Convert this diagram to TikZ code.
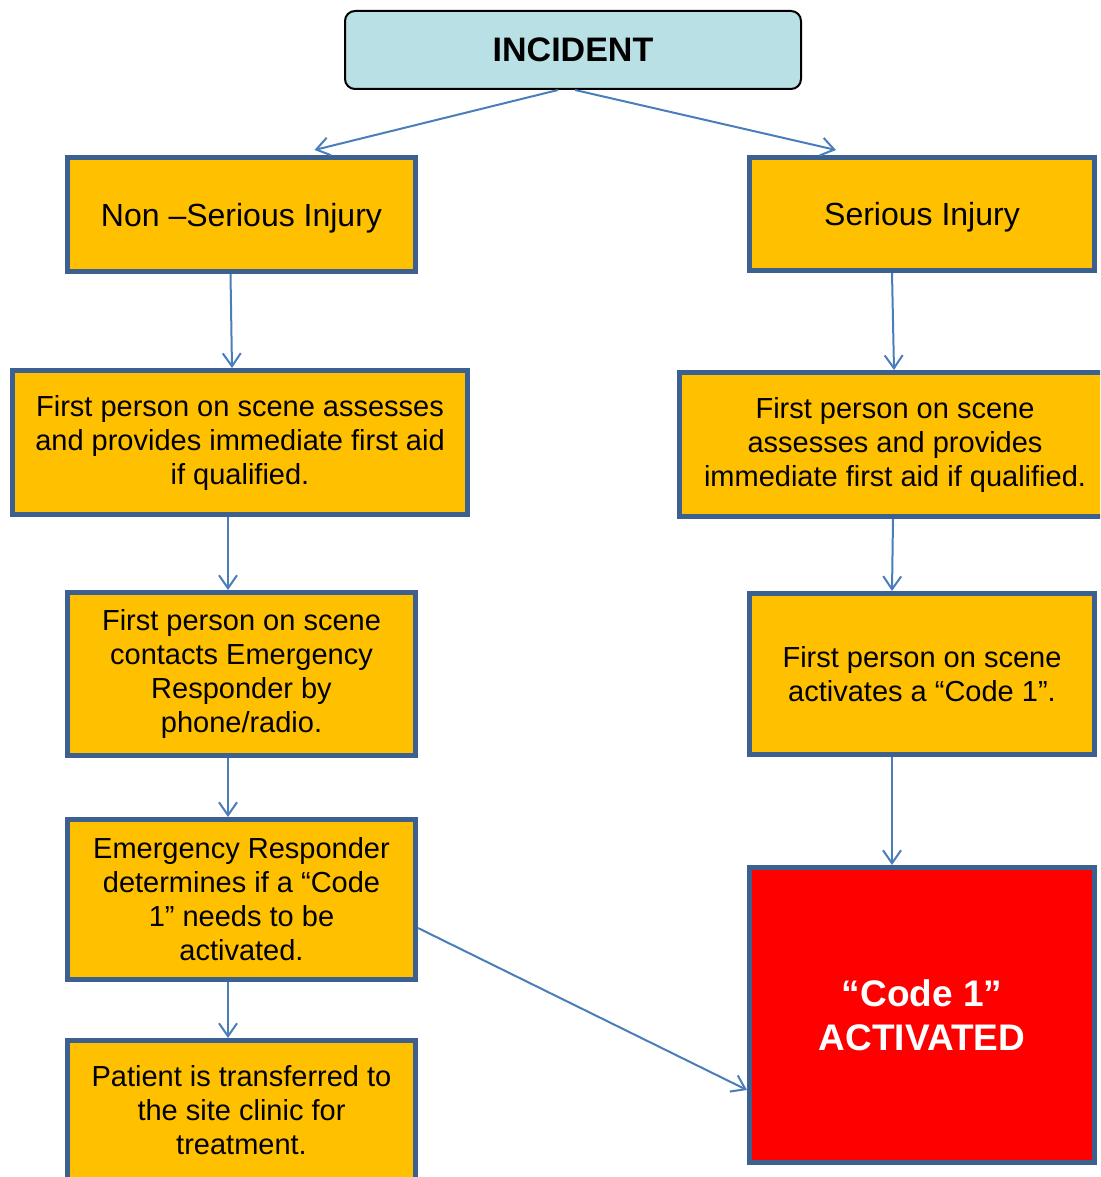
\documentclass[tikz,border=0pt]{standalone}
\usepackage{fontspec}
\setmainfont{Liberation Sans}
\usetikzlibrary{arrows.meta}
\definecolor{boxfill}{HTML}{FFC000}
\definecolor{boxline}{HTML}{3C6090}
\definecolor{arrowc}{HTML}{4A7EBB}
\definecolor{incfill}{HTML}{B9E0E4}
\definecolor{codered}{HTML}{FF0000}
\begin{document}
\begin{tikzpicture}[x=1pt,y=-1pt,
  stepbox/.style={draw=boxline, line width=5pt, fill=boxfill, inner sep=0pt, align=center,
    font=\fontsize{29}{34}\selectfont},
  bigstep/.style={stepbox, font=\fontsize{32}{38}\selectfont, text depth=0pt},
  redbox/.style={draw=boxline, line width=5pt, fill=codered, inner sep=0pt, align=center,
    text=white, font=\bfseries\fontsize{37}{44}\selectfont},
  topbox/.style={draw=black, line width=2pt, fill=incfill, rounded corners=10pt, inner sep=0pt,
    align=center, font=\bfseries\fontsize{34}{40}\selectfont},
  arr/.style={draw=arrowc, line width=2pt, -{Straight Barb[length=13pt,width=18pt,line width=2pt]}}
]
\useasboundingbox (0,0) rectangle (1100,1177);
\clip (0,0) rectangle (1100,1177);
\node[topbox, minimum width=456pt, minimum height=78pt] (inc) at (573,50) {INCIDENT};
\node[bigstep, minimum width=348pt, minimum height=114pt] (ns) at (241.5,214.5) {Non –Serious Injury};
\node[bigstep, minimum width=345pt, minimum height=113pt] (ser) at (922,214) {Serious Injury};
\node[stepbox, minimum width=455pt, minimum height=144pt] (l2) at (240,442.5)
  {First person on scene assesses\\and provides immediate first aid\\if qualified.};
\node[stepbox, minimum width=431pt, minimum height=144pt] (r2) at (895,444.5)
  {First person on scene\\assesses and provides\\immediate first aid if qualified.};
\node[stepbox, minimum width=348pt, minimum height=163pt] (l3) at (241.5,674)
  {First person on scene\\contacts Emergency\\Responder by\\phone/radio.};
\node[stepbox, minimum width=345pt, minimum height=161pt] (r3) at (922,674)
  {First person on scene\\activates a “Code 1”.};
\node[stepbox, minimum width=348pt, minimum height=160pt] (l4) at (241.5,899.5)
  {Emergency Responder\\determines if a “Code\\1” needs to be\\activated.};
\node[stepbox, minimum width=348pt, minimum height=139pt] (l5) at (241.5,1110)
  {Patient is transferred to\\the site clinic for\\treatment.};
\node[redbox, minimum width=345pt, minimum height=295pt] (code) at (922,1015)
  {“Code 1”\\ACTIVATED};
\draw[arr] ([xshift=-15pt]inc.south) -- ([xshift=73pt,yshift=5pt]ns.north);
\draw[arr] ([xshift=2pt]inc.south) -- ([xshift=-86pt,yshift=5pt]ser.north);
\draw[arr] ([xshift=-11pt]ns.south) -- ([xshift=-8pt]l2.north);
\draw[arr] ([xshift=-12pt]l2.south) -- ([xshift=-13.5pt]l3.north);
\draw[arr] ([xshift=-13.5pt]l3.south) -- ([xshift=-13.5pt]l4.north);
\draw[arr] ([xshift=-13.5pt]l4.south) -- ([xshift=-13.5pt]l5.north);
\draw[arr] ([yshift=-28.5pt]l4.east) -- ([yshift=-75pt]code.west);
\draw[arr] ([xshift=-30pt]ser.south) -- ([xshift=-1pt]r2.north);
\draw[arr] ([xshift=-2pt]r2.south) -- ([xshift=-30pt]r3.north);
\draw[arr] ([xshift=-30pt]r3.south) -- ([xshift=-30pt]code.north);
\end{tikzpicture}
\end{document}
